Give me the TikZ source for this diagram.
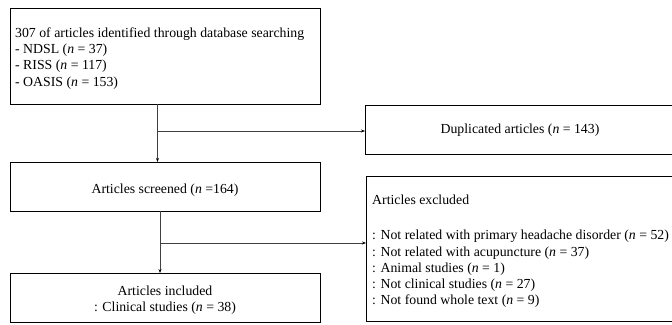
\documentclass[tikz,border=0pt]{standalone}
\usepackage{fontspec}
\setmainfont{Liberation Serif}
\usetikzlibrary{arrows.meta}
\begin{document}
\begin{tikzpicture}[x=1pt,y=-1pt,
  box/.style={draw=black,line width=0.9pt,inner sep=0pt},
  conn/.style={draw=black!75,line width=0.9pt},
  arr/.style={conn,-{Stealth[length=4pt,width=3pt,black]}},
  txt/.style={font=\fontsize{13.8}{16.2}\selectfont,inner sep=0pt}]
\useasboundingbox (0,0) rectangle (672,324);
% boxes
\draw[box] (10,8) rectangle (320,104);
\draw[box] (10,162) rectangle (320,211);
\draw[box] (10,273) rectangle (320,322);
\draw[box] (365,105) rectangle (676,154);
\draw[box] (366,176) rectangle (676,321);
\node[txt,anchor=north west,align=left] (t1) at (15,27.6) {307 of articles identified through database searching\\- NDSL (\textit{n} = 37)\\- RISS (\textit{n} = 117)\\- OASIS (\textit{n} = 153)};
\node[txt] (t2) at (165,190) {Articles screened (\textit{n} =164)};
\node[txt,align=center] (t3) at (165,300) {Articles included\\: Clinical studies (\textit{n} = 38)};
\node[txt] (t4) at (520,130) {Duplicated articles (\textit{n} = 143)};
\node[txt,anchor=north west,align=left] (t5) at (372,195) {Articles excluded\\[19pt]: Not related with primary headache disorder (\textit{n} = 52)\\: Not related with acupuncture (\textit{n} = 37)\\: Animal studies (\textit{n} = 1)\\: Not clinical studies (\textit{n} = 27)\\: Not found whole text (\textit{n} = 9)};
% named connector points
\coordinate (a1) at (157.5,104);
\coordinate (a2) at (157.5,162);
\coordinate (b1) at (157.5,131);
\coordinate (b2) at (365,131);
\coordinate (c1) at (160,211);
\coordinate (c2) at (160,273);
\coordinate (d1) at (160,243);
\coordinate (d2) at (366,243);
\draw[arr] (a1) -- (a2);
\draw[arr] (b1) -- (b2);
\draw[arr] (c1) -- (c2);
\draw[arr] (d1) -- (d2);
\end{tikzpicture}
\end{document}
